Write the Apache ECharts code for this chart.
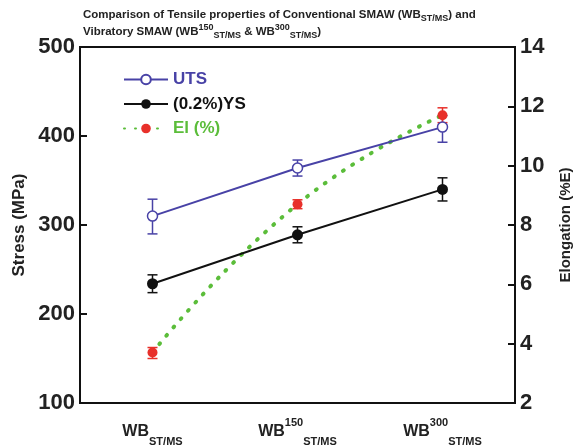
<!DOCTYPE html>
<html>
<head>
<meta charset="utf-8">
<script src="https://cdn.jsdelivr.net/npm/echarts@6/dist/echarts.min.js"></script>
<style>
  html, body { margin: 0; padding: 0; background: #fff; }
  #chart { width: 578px; height: 446px; }
</style>
</head>
<body>
<div id="chart"></div>
<script>
// welding conditions on the x axis
const categories = ['WB_ST/MS', 'WB150_ST/MS', 'WB300_ST/MS'];

// stress (MPa), left axis
const uts = [310, 364, 410];
const utsErr = [[290, 329], [355, 373], [393, 423]];
const ys = [234, 289, 340];
const ysErr = [[224, 244], [280, 298], [327, 353]];

// elongation (%), right axis
const el = [3.7, 8.7, 11.7];
const elErr = [[3.5, 3.87], [8.55, 8.85], [11.45, 11.95]];

const stressTicks = { min: 100, max: 500, interval: 100 };
const elongTicks = { min: 2, max: 14, interval: 2 };

const font = "'Liberation Sans', Arial, sans-serif";
const purple = '#4842a6';
const green = '#5bbd3a';
const red = '#e8302a';

// x label as rich text: WB + superscript + subscript
const xLabels = {
    'WB_ST/MS': '{b|WB}{sub|ST/MS}',
    'WB150_ST/MS': '{b|WB}{sup|150}{sub|ST/MS}',
    'WB300_ST/MS': '{b|WB}{sup|300}{sub|ST/MS}'
};

function errBars(params, api) {
    const x = api.value(0);
    const lo = api.coord([x, api.value(1)]);
    const hi = api.coord([x, api.value(2)]);
    const w = 5;
    const style = { stroke: api.visual('color'), lineWidth: 1.5 };
    return {
        type: 'group',
        children: [
            { type: 'line', shape: { x1: lo[0], y1: lo[1], x2: hi[0], y2: hi[1] }, style: style },
            { type: 'line', shape: { x1: lo[0] - w, y1: lo[1], x2: lo[0] + w, y2: lo[1] }, style: style },
            { type: 'line', shape: { x1: hi[0] - w, y1: hi[1], x2: hi[0] + w, y2: hi[1] }, style: style }
        ]
    };
}

function errData(arr) {
    return arr.map((d, i) => [i, d[0], d[1]]);
}

let chart = echarts.init(document.getElementById('chart'));

let option = {
    animation: false,
    backgroundColor: '#fff',
    textStyle: { fontFamily: font },
    title: {
        left: 83,
        top: 6,
        padding: 0,
        text: 'Comparison of Tensile properties of Conventional SMAW (WB{sub|ST/MS}) and\nVibratory SMAW (WB{sup|150}{sub|ST/MS} & WB{sup|300}{sub|ST/MS})',
        textStyle: {
            fontFamily: font,
            fontSize: 11.5,
            fontWeight: 'bold',
            color: '#222',
            lineHeight: 17,
            rich: {
                sub: { fontFamily: font, fontSize: 9, fontWeight: 'bold', lineHeight: 8, verticalAlign: 'bottom', color: '#222' },
                sup: { fontFamily: font, fontSize: 9, fontWeight: 'bold', lineHeight: 8, verticalAlign: 'top', color: '#222' }
            }
        }
    },
    legend: {
        orient: 'vertical',
        left: 118,
        top: 66,
        itemWidth: 44,
        itemHeight: 12,
        itemGap: 7.5,
        textStyle: { fontFamily: font, fontSize: 17, fontWeight: 'bold' },
        data: [
            { name: 'UTS', textStyle: { color: purple } },
            { name: '(0.2%)YS', textStyle: { color: '#111' } },
            { name: 'El (%)', textStyle: { color: green } }
        ]
    },
    grid: {
        left: 80,
        right: 63,
        top: 47,
        bottom: 43,
        outerBoundsMode: 'none',
        containLabel: false,
        show: true,
        borderColor: '#111',
        borderWidth: 2
    },
    xAxis: {
        type: 'category',
        data: categories,
        boundaryGap: true,
        axisLine: { lineStyle: { color: '#111', width: 2 } },
        axisTick: { alignWithLabel: true, inside: true, length: 7, lineStyle: { color: '#111', width: 2 } },
        axisLabel: {
            interval: 0,
            hideOverlap: false,
            margin: 14,
            color: '#222',
            formatter: v => xLabels[v],
            rich: {
                b: { fontFamily: font, fontSize: 16, fontWeight: 'bold', lineHeight: 30, color: '#222' },
                sub: { fontFamily: font, fontSize: 11, fontWeight: 'bold', lineHeight: 12, verticalAlign: 'bottom', color: '#222' },
                sup: { fontFamily: font, fontSize: 11, fontWeight: 'bold', lineHeight: 18, verticalAlign: 'top', color: '#222' }
            }
        },
        splitLine: { show: false }
    },
    yAxis: [
        {
            type: 'value',
            min: stressTicks.min,
            max: stressTicks.max,
            interval: stressTicks.interval,
            name: 'Stress (MPa)',
            nameLocation: 'middle',
            nameRotate: 90,
            nameGap: 49,
            nameTextStyle: { fontFamily: font, fontSize: 17, fontWeight: 'bold', color: '#222' },
            axisLine: { show: true, lineStyle: { color: '#111', width: 2 } },
            axisTick: { show: true, inside: true, length: 7, lineStyle: { color: '#111', width: 2 } },
            axisLabel: { fontFamily: font, fontSize: 22, fontWeight: 'bold', color: '#222', margin: 5 },
            splitLine: { show: false }
        },
        {
            type: 'value',
            min: elongTicks.min,
            max: elongTicks.max,
            interval: elongTicks.interval,
            position: 'right',
            name: 'Elongation (%E)',
            nameLocation: 'middle',
            nameRotate: 90,
            nameGap: 43,
            nameTextStyle: { fontFamily: font, fontSize: 15, fontWeight: 'bold', color: '#222' },
            axisLine: { show: true, lineStyle: { color: '#111', width: 2 } },
            axisTick: { show: true, inside: true, length: 7, lineStyle: { color: '#111', width: 2 } },
            axisLabel: { fontFamily: font, fontSize: 22, fontWeight: 'bold', color: '#222', margin: 5 },
            splitLine: { show: false }
        }
    ],
    series: [
        {
            type: 'custom',
            renderItem: errBars,
            yAxisIndex: 0,
            itemStyle: { color: purple },
            data: errData(utsErr),
            z: 1
        },
        {
            type: 'custom',
            renderItem: errBars,
            yAxisIndex: 0,
            itemStyle: { color: '#111' },
            data: errData(ysErr),
            z: 1
        },
        {
            type: 'custom',
            renderItem: errBars,
            yAxisIndex: 1,
            itemStyle: { color: red },
            data: errData(elErr),
            z: 1
        },
        {
            name: 'El (%)',
            type: 'line',
            yAxisIndex: 1,
            data: el,
            smooth: 0.5,
            symbol: 'circle',
            symbolSize: 10,
            itemStyle: { color: red },
            lineStyle: { color: green, width: 4, type: [1, 10], cap: 'round' },
            z: 2
        },
        {
            name: 'UTS',
            type: 'line',
            yAxisIndex: 0,
            data: uts,
            symbol: 'circle',
            symbolSize: 10,
            itemStyle: { color: '#fff', borderColor: purple, borderWidth: 1.5 },
            lineStyle: { color: purple, width: 2 },
            z: 3
        },
        {
            name: '(0.2%)YS',
            type: 'line',
            yAxisIndex: 0,
            data: ys,
            symbol: 'circle',
            symbolSize: 11,
            itemStyle: { color: '#111' },
            lineStyle: { color: '#111', width: 2 },
            z: 3
        }
    ]
};

chart.setOption(option);
</script>
</body>
</html>
